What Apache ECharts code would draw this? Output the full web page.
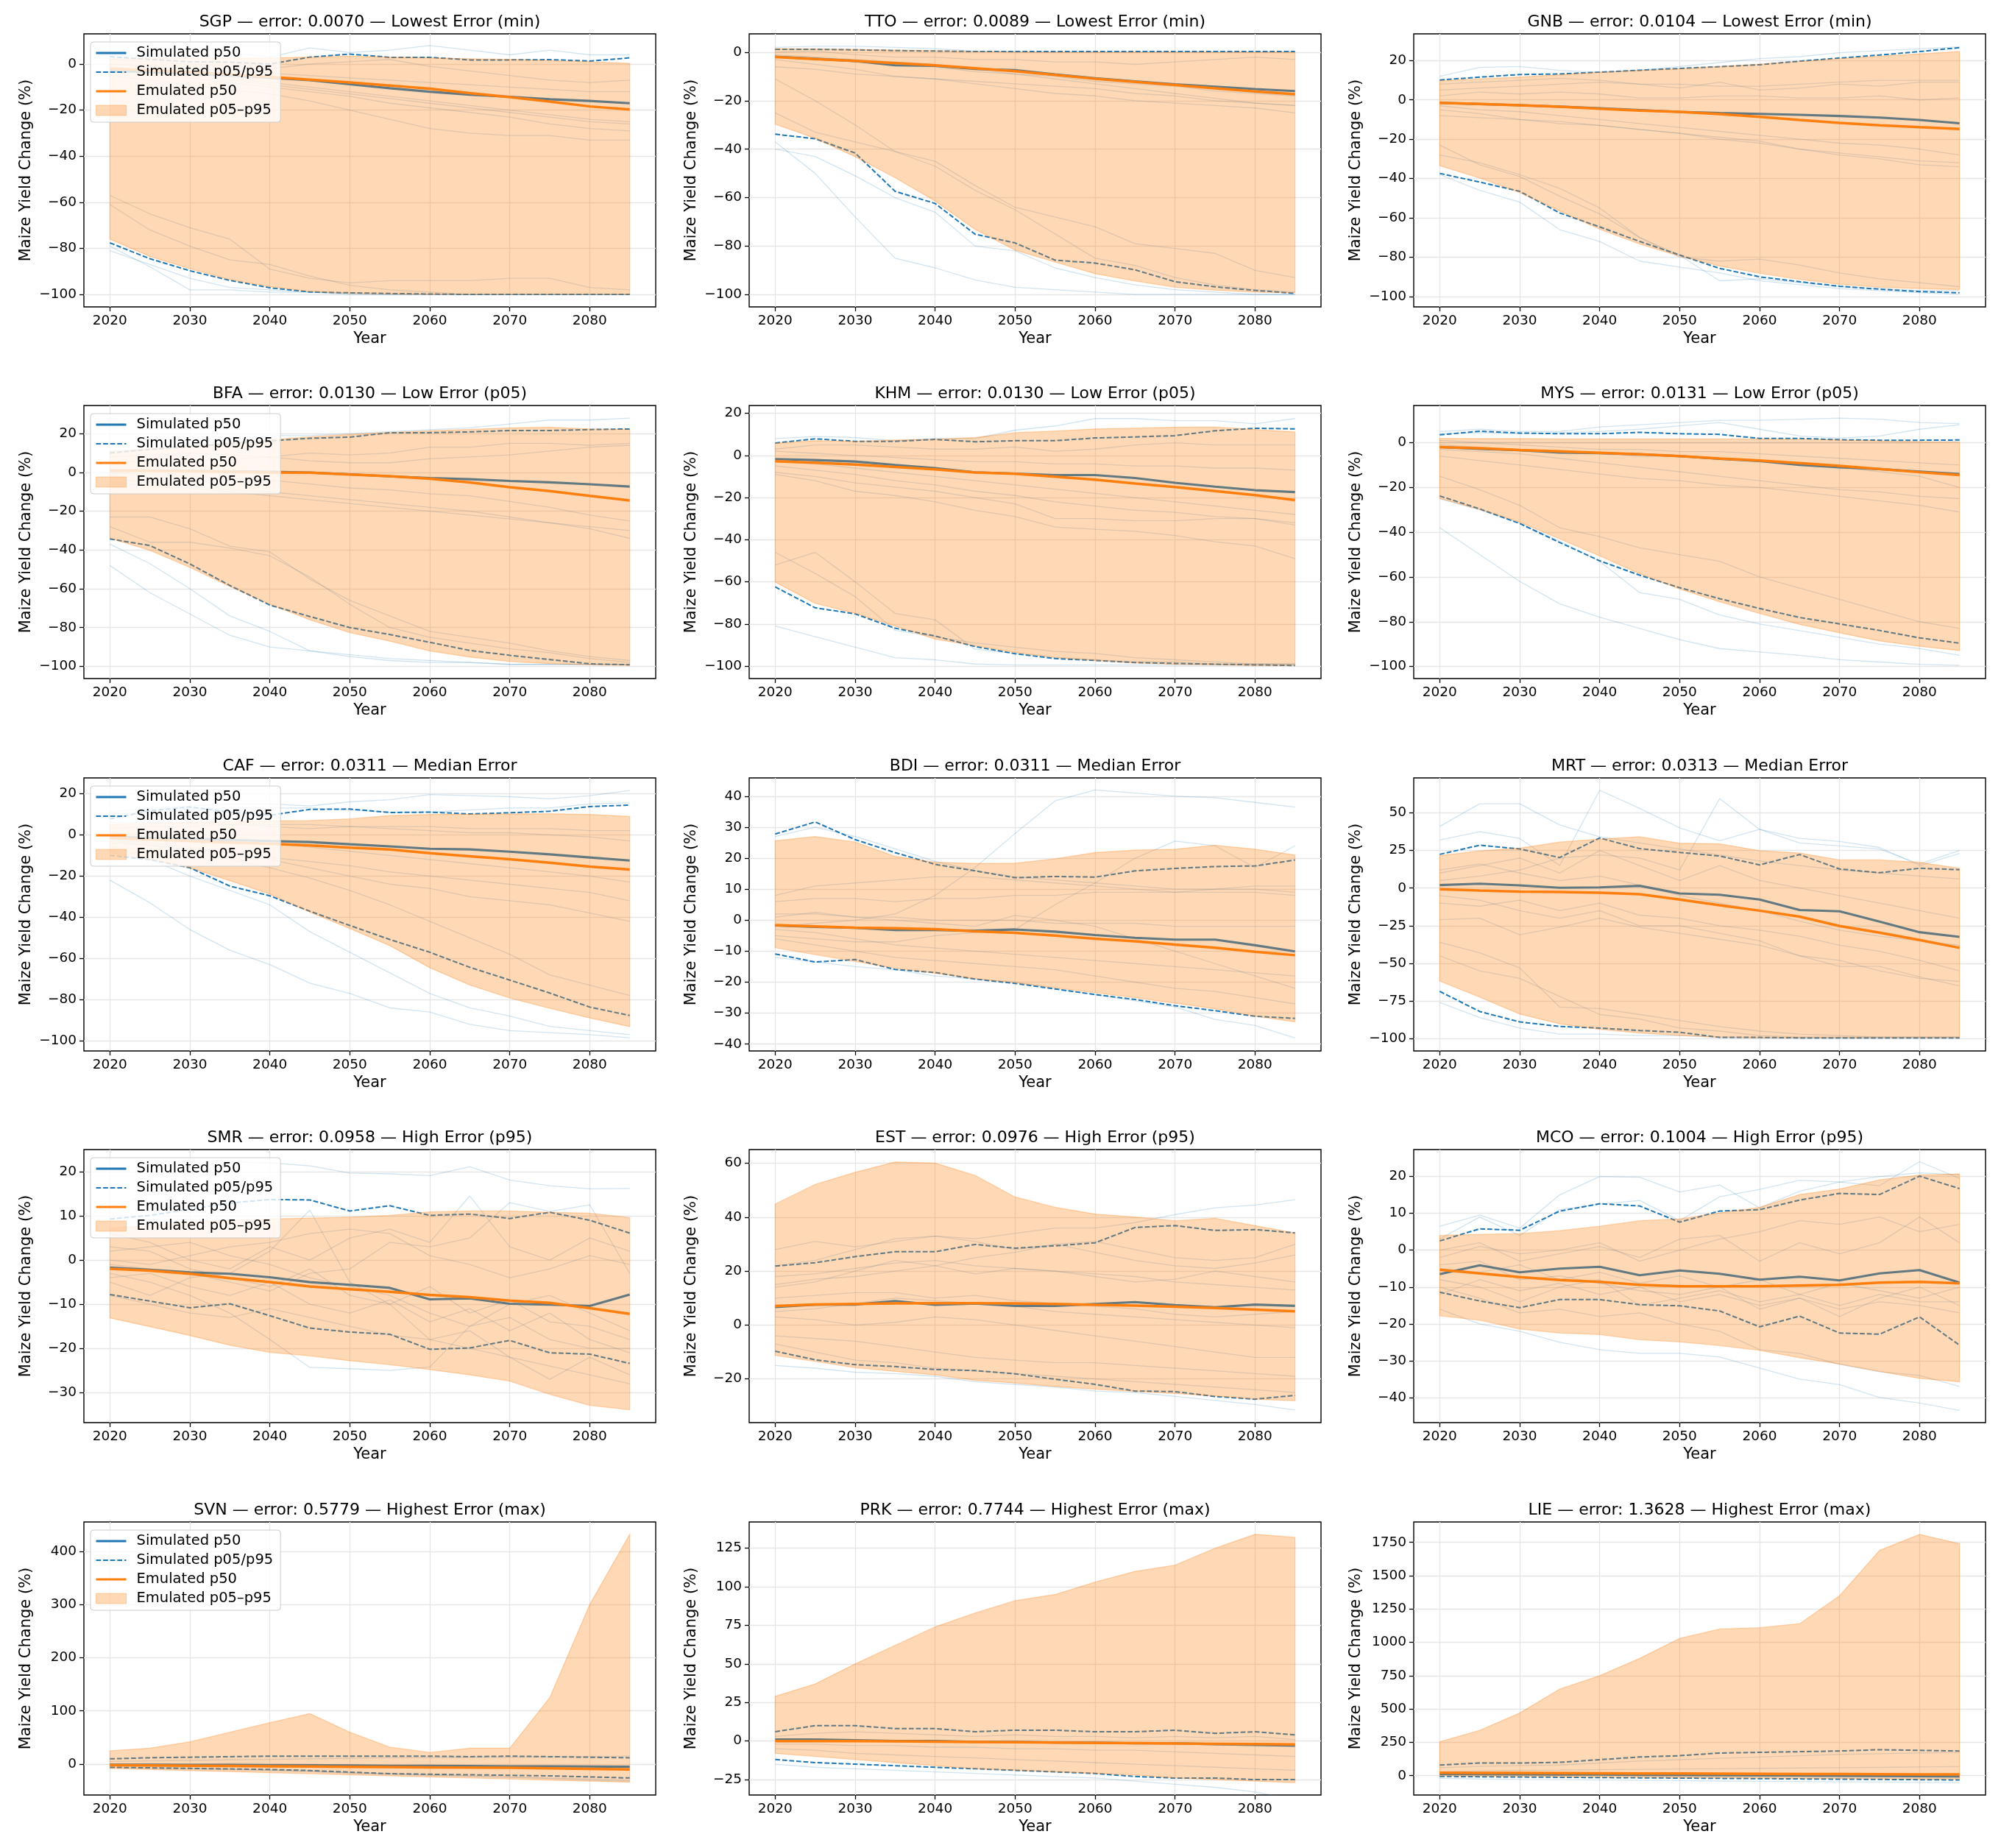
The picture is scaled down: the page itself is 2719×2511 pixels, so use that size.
<!DOCTYPE html>
<html>
<head>
<meta charset="utf-8">
<title>Maize yield change - simulated vs emulated</title>
<script src="https://cdn.jsdelivr.net/npm/echarts@6/dist/echarts.min.js"></script>
<style>
  html, body { margin: 0; padding: 0; background: #fff; }
  #chart { width: 2719px; height: 2511px; }
</style>
</head>
<body>
<div id="chart"></div>
<script>
// x axis
var years = [2020, 2025, 2030, 2035, 2040, 2045, 2050, 2055, 2060, 2065, 2070, 2075, 2080, 2085];
var yearTicks = [2020, 2030, 2040, 2050, 2060, 2070, 2080];

// SGP
var sgpSim50 = [-3, -3.5, -4.2, -5, -6, -7, -8.8, -10.5, -12, -13.3, -14.2, -15.3, -16, -17];
var sgpSim05 = [-77.6, -84.5, -89.7, -93.9, -97.1, -98.9, -99.3, -99.6, -99.8, -100, -100, -100, -100, -100];
var sgpSim95 = [3.2, 2, 1, 0.8, 0, 3, 4.3, 2.9, 2.9, 1.8, 1.8, 1.9, 1.3, 2.7];
var sgpEmu50 = [-2, -2.7, -3.5, -4.5, -5.6, -6.8, -8, -9.3, -10.7, -12.6, -14.4, -16.3, -18.4, -19.7];
var sgpEmu05 = [-76, -83.5, -88.8, -93.6, -96.6, -98.7, -99.5, -99.8, -100, -100, -100, -100, -100, -100];
var sgpEmu95 = [2.3, 2.4, 2.5, 2.5, 2.6, 3, 3.4, 3, 2.7, 2.3, 2, 1.5, 1, 0.3];
var sgpMembers = [
  [-1, -3, -5, -7, -9, -11, -13, -15, -17, -19, -21, -23, -25, -26],
  [2, 1, 0, -1, -2, 0, 1, 2, -1, -3, -5, -7, -8, -7],
  [-5, -7, -9, -11, -13, -16, -20, -24, -28, -30, -31, -31, -33, -33],
  [-57, -65, -71, -76, -89, -93, -95, -94, -94, -94, -93, -93, -97, -98],
  [-81, -87, -93, -97, -98, -99, -99.5, -100, -100, -100, -100, -100, -100, -100],
  [4, 3, 3, 5, 3, 7, 5, 6, 8, 6, 4, 6, 4, 4],
  [-61, -72, -79, -85, -87, -92, -96, -98, -99, -100, -100, -100, -100, -100],
  [-79, -88, -98, -98, -99, -99, -100, -100, -100, -100, -100, -100, -100, -100],
  [-3, -4, -6, -8, -10, -12, -14, -17, -19, -21, -23, -26, -28, -29],
  [-2, -3, -4, -6, -8, -10, -12, -14, -16, -18, -20, -22, -24, -25],
  [0, -1, -2, -3, -4, -5, -6, -7, -8, -9, -10, -11, -12, -12]
];
var sgpYTicks = [-100, -80, -60, -40, -20, 0];
var sgpYLim = [-105.4, 13.1];

// TTO
var ttoSim50 = [-1.8, -2.7, -3.6, -5.4, -5.6, -6.9, -7.4, -9.1, -10.7, -12, -13.2, -14.2, -15.2, -16];
var ttoSim05 = [-33.8, -35.7, -41.6, -57.4, -62.4, -75.1, -78.7, -85.8, -87, -89.8, -94.7, -96.8, -98.3, -99.5];
var ttoSim95 = [1.2, 1.2, 1, 0.7, 0.5, 0.3, 0.3, 0.3, 0.3, 0.3, 0.3, 0.3, 0.3, 0.3];
var ttoEmu50 = [-2, -2.8, -3.6, -4.5, -5.4, -6.6, -7.8, -9.3, -10.9, -12.2, -13.5, -14.9, -16.2, -17.3];
var ttoEmu05 = [-29.7, -35.5, -43.1, -51.8, -61.4, -73.1, -81.7, -86.6, -91.4, -94.4, -97, -98.2, -99, -99.3];
var ttoEmu95 = [1.5, 1.4, 1.2, 0.9, 0.7, 0.3, 0.1, 0, 0, 0, 0, 0, 0, 0];
var ttoMembers = [
  [-11, -20, -30, -41, -47, -57, -65, -75, -85, -88, -93, -96, -98, -99],
  [-25, -33, -37, -41, -45, -55, -64, -68, -72, -79, -81, -83, -90, -93],
  [-37, -50, -68, -85, -89, -94, -97, -98, -99, -100, -100, -100, -100, -100],
  [-40, -43, -51, -60, -66, -80, -82, -89, -93, -96, -98, -99, -100, -100],
  [-3, -5, -7, -10, -11, -13, -15, -17, -18, -20, -21, -22, -23, -25],
  [0, 0.5, -1, -2, -2, -3, -3, -4, -4, -5, -4, -3, -2, -3],
  [2, 2.5, 2.5, 2, 1.5, 0.5, 0, 0, 0, 0, 0, 0, 0, 0],
  [-6, -7, -9, -10, -11, -12, -13, -14, -15, -17, -18, -20, -21, -22],
  [-1, -2, -3, -4, -5, -7, -9, -11, -13, -15, -17, -19, -21, -22],
  [-2, -3, -4, -5, -6, -8, -9, -10, -12, -13, -14, -16, -17, -18]
];
var ttoYTicks = [-100, -80, -60, -40, -20, 0];
var ttoYLim = [-105.1, 7.6];

// GNB
var gnbSim50 = [-1.5, -2.1, -2.7, -3.4, -4.2, -5.2, -6.1, -6.7, -7.1, -7.6, -8.2, -9, -10.2, -11.9];
var gnbSim05 = [-37.4, -41.8, -46.5, -57.5, -64.6, -72, -78.9, -85.7, -90, -92.5, -94.8, -96.3, -97.5, -98.1];
var gnbSim95 = [10.1, 11.6, 12.9, 13.2, 14.1, 15.1, 16, 16.9, 17.9, 19.7, 21.3, 22.8, 24.6, 26.6];
var gnbEmu50 = [-1.5, -2.1, -2.7, -3.5, -4.5, -5.4, -6.1, -7.2, -8.6, -10.2, -11.7, -12.9, -13.9, -14.8];
var gnbEmu05 = [-33.5, -39.7, -47.1, -56.5, -65.8, -73.3, -79.5, -84.5, -88.2, -91.3, -93.8, -95.3, -96, -96.5];
var gnbEmu95 = [9.7, 10.7, 11.6, 12.8, 14.1, 15, 15.9, 17, 18.2, 19.6, 21, 22.2, 23.4, 24.6];
var gnbMembers = [
  [12, 16.5, 17, 15, 14, 15, 17, 19, 21, 22, 24, 25, 26, 27],
  [-23, -33, -39, -49, -58, -70, -80, -82, -81, -84, -88, -91, -93, -95],
  [-28, -32, -38, -45, -55, -70, -79, -92, -91, -93, -95, -96, -97, -97],
  [-38, -46, -52, -66, -72, -82, -85, -88, -92, -94, -96, -97, -98, -99],
  [8, 9, 10, 11, 10, 8, 6, 9, 5, 6, 8, 7, 9, 9],
  [-5, -7, -10, -11, -13, -15, -17, -19, -21, -25, -28, -30, -33, -34],
  [2, 4, 3, 4, 3, 1, 1, 2, 2, 1, 1, 2, 0, 1],
  [-3, -5, -6, -8, -10, -12, -14, -16, -18, -20, -22, -23, -25, -28],
  [5, 6, 7, 8, 9, 8, 8, 7, 7, 8, 9, 10, 10, 10],
  [-8, -9, -10, -12, -13, -15, -17, -20, -22, -25, -27, -29, -31, -32]
];
var gnbYTicks = [-100, -80, -60, -40, -20, 0, 20];
var gnbYLim = [-105.3, 33.6];

// BFA
var bfaSim50 = [1, 1, 0.8, 0.5, 0.3, -0.1, -1, -2, -2.9, -3.5, -4.4, -5.1, -6.1, -7.3];
var bfaSim05 = [-34.3, -37.7, -47.2, -58.3, -68.4, -74.3, -80, -83.6, -87.6, -91.8, -94.3, -96.5, -98.7, -99.2];
var bfaSim95 = [10, 11.9, 13.3, 14.8, 16.3, 17.6, 18.2, 20.5, 20.5, 20.9, 21.6, 21.6, 22.1, 22.4];
var bfaEmu50 = [0.9, 0.8, 0.6, 0.3, 0, -0.1, -1.1, -1.9, -3.3, -5.2, -7.6, -9.6, -12.1, -14.5];
var bfaEmu05 = [-33.9, -40.2, -49, -58.8, -68, -76, -82.6, -87, -92.1, -95.2, -97.5, -98.6, -99.2, -99.6];
var bfaEmu95 = [10.7, 12.2, 13.8, 15.4, 16.9, 18.3, 19.6, 20.6, 21.4, 22.2, 23, 23.3, 22.4, 22.1];
var bfaMembers = [
  [-23, -23, -29, -38, -41, -55, -66, -74, -82, -85, -88, -92, -95, -97],
  [-28, -36, -36, -39, -43, -54, -68, -80, -85, -88, -91, -93, -96, -98],
  [-37, -47, -60, -74, -82, -92, -95, -97, -98, -98, -99, -99, -99, -99],
  [-48, -62, -73, -84, -90, -92, -94, -96, -97, -98, -99, -99, -99, -99],
  [11, 12, 14, 17, 19, 19, 20, 21, 22, 23, 25, 27, 27, 28],
  [5, 6, 6, 7, 8, 10, 9, 10, 13, 13, 15, 15, 14, 15],
  [-3, -5, -7, -9, -10, -12, -14, -16, -18, -20, -23, -26, -29, -34],
  [0, -1, -2, -3, -4, -6, -8, -9, -11, -12, -15, -18, -22, -25],
  [8, 9, 10, 9, 8, 6, 5, 5, 7, 8, 9, 11, 13, 14],
  [-5, -7, -8, -10, -12, -14, -16, -18, -20, -22, -24, -26, -28, -30]
];
var bfaYTicks = [-100, -80, -60, -40, -20, 0, 20];
var bfaYLim = [-106.3, 34.5];

// KHM
var khmSim50 = [-1.7, -2.2, -2.9, -4.5, -6, -8, -8.6, -9.3, -9.3, -10.7, -13, -14.8, -16.5, -17.4];
var khmSim05 = [-62.4, -72.3, -75.2, -82, -85.7, -90.7, -94.1, -96.4, -97.3, -98.3, -98.7, -99.1, -99.4, -99.7];
var khmSim95 = [5.9, 7.9, 6.7, 6.7, 7.6, 6.5, 7, 7, 8.3, 8.8, 9.4, 11.7, 12.9, 12.6];
var khmEmu50 = [-2.8, -3.5, -4.3, -5.5, -6.6, -8.1, -8.7, -10.1, -11.5, -13.3, -15, -16.9, -18.8, -21.2];
var khmEmu05 = [-60.1, -70.2, -74.9, -81, -87.2, -90.3, -93.5, -95.9, -97.3, -98.5, -99.1, -99.4, -99.7, -99.7];
var khmEmu95 = [5.8, 7, 6.7, 7.3, 7.7, 8.5, 10.8, 11.6, 12.6, 13, 13.4, 13.5, 12.3, 11.2];
var khmMembers = [
  [-46, -56, -67, -83, -86, -89, -91, -93, -94, -96, -97, -98, -99, -99],
  [-52, -46, -60, -75, -78, -92, -94, -96, -97, -98, -98, -99, -99, -99],
  [-81, -86, -91, -96, -97, -99, -99.5, -99.5, -99.5, -99.5, -99.5, -99.5, -99.5, -99.5],
  [8, 9, 8.5, 7, 8, 8, 12, 14, 17.5, 17.5, 16.5, 16.5, 15, 17.5],
  [-9, -12, -17, -19, -22, -26, -29, -34, -35, -36, -38, -41, -43, -49],
  [-8, -10, -13, -15, -17, -20, -23, -30, -30, -31, -31, -30, -30, -33],
  [3, 5, 5, 4, 3, 3, 4, 2, 3, 5, 6, 5, 5, 5],
  [-5, -7, -9, -12, -14, -17, -19, -22, -24, -26, -27, -29, -30, -32],
  [-3, -4, -6, -8, -10, -12, -14, -16, -18, -20, -22, -24, -26, -28],
  [2, 1, 0, -1, -2, -3, -3, -4, -4, -5, -5, -6, -6, -7]
];
var khmYTicks = [-100, -80, -60, -40, -20, 0, 20];
var khmYLim = [-105.9, 23.7];

// MYS
var mysSim50 = [-2, -2.8, -3.4, -4.4, -4.7, -5.2, -6, -7.2, -8.2, -9.9, -11, -11.8, -12.9, -14];
var mysSim05 = [-23.8, -29.6, -36.1, -44.6, -52.8, -59.2, -64.8, -69.7, -74.1, -78.1, -81, -83.9, -87.2, -89.6];
var mysSim95 = [3.5, 5.1, 4.3, 4, 4, 4.6, 4, 3.7, 1.9, 1.9, 1.3, 1.1, 1.1, 1.2];
var mysEmu50 = [-2, -2.5, -3.3, -3.9, -4.5, -5.2, -6, -7.1, -8, -9.1, -10.4, -11.8, -13.2, -14.5];
var mysEmu05 = [-24.9, -29.8, -35.5, -43, -50.6, -58.6, -65.4, -71.1, -76.3, -81.2, -85, -88.6, -91, -92.9];
var mysEmu95 = [1.9, 1.8, 1.8, 1.7, 1.7, 1.7, 1.7, 1.7, 1.6, 1.5, 1.2, 0.8, 0.4, 0.2];
var mysMembers = [
  [-38, -50, -62, -72, -78, -83, -88, -92, -93.5, -95, -97, -98, -99, -99.5],
  [-25, -30, -36, -44, -53, -67, -70, -77, -81, -84, -87, -90, -92, -95],
  [-15, -21, -28, -38, -42, -47, -50, -53, -60, -65, -70, -75, -80, -83],
  [5, 6, 5, 5, 7, 8, 9, 10, 10, 10.5, 11, 10.5, 9, 8.5],
  [4, 4.5, 4, 4.5, 5, 6, 7.5, 9, 6, 3, 2, 3, 6, 8],
  [-6, -8, -10, -12, -14, -16, -17, -19, -20, -22, -24, -26, -28, -31],
  [-1, -2, -3, -4, -5, -6, -6, -7, -8, -10, -11, -13, -15, -20],
  [0, 0, 0, 0, 0, 0, 0, 0, 0, 0, 0, 0, 0, 0.5],
  [-3, -4, -5, -7, -9, -11, -13, -15, -17, -19, -21, -22, -24, -25],
  [1, 0, -1, -2, -3, -3, -4, -4, -5, -6, -7, -8, -9, -10]
];
var mysYTicks = [-100, -80, -60, -40, -20, 0];
var mysYLim = [-105.4, 16.6];

// CAF
var cafSim50 = [-1, -1.5, -2, -2.5, -3, -3.5, -4.6, -5.6, -6.8, -7.1, -8.2, -9.5, -11, -12.5];
var cafSim05 = [-10, -12, -16, -24.9, -29.6, -37.1, -44, -50.8, -57, -64.3, -70.5, -76.8, -83.6, -87.7];
var cafSim95 = [7.7, 11.7, 13.5, 11, 9.5, 12.3, 12.5, 10.8, 11, 10.1, 10.7, 11.4, 13.7, 14.4];
var cafEmu50 = [-1.5, -2.3, -3, -3.7, -4.4, -5.2, -6.2, -7.1, -8.9, -10.4, -11.9, -13.6, -15.4, -16.9];
var cafEmu05 = [-9, -12, -16, -22.3, -28.8, -37.5, -45.5, -53.8, -64.5, -72.9, -79.2, -84.2, -88.9, -93.1];
var cafEmu95 = [5.1, 5.5, 6, 6.4, 6.7, 6.9, 7.7, 9.3, 9.9, 10, 10.1, 10.2, 9.9, 8.9];
var cafMembers = [
  [-22, -33, -46, -56, -63, -72, -77, -84, -86, -92, -95, -96, -97, -98.5],
  [-5, -12, -20, -27, -34, -47, -57, -67, -77, -84, -88, -93, -95, -97],
  [11, 13, 14, 15, 15, 14, 16, 17, 19.5, 19, 18.5, 17.5, 19, 21.5],
  [10, 11, 12, 13, 13, 13, 12, 11, 11, 12, 13, 13, 15, 15.5],
  [-3, -5, -8, -12, -16, -21, -27, -34, -42, -50, -58, -68, -73, -78],
  [-2, -4, -6, -9, -12, -16, -20, -24, -26, -30, -32, -34, -38, -42],
  [3, 4, 4, 5, 4, 3, 4, 3, 2, 1, 1, 0, -1, -3],
  [-4, -5, -7, -9, -11, -13, -15, -18, -20, -22, -24, -26, -28, -32],
  [1, 0, -1, -2, -4, -6, -8, -10, -12, -14, -16, -18, -20, -23],
  [6, 6, 6, 5, 5, 5, 4, 4, 4, 3, 3, 3, 2, 2]
];
var cafYTicks = [-100, -80, -60, -40, -20, 0, 20];
var cafYLim = [-104.9, 27.6];

// BDI
var bdiSim50 = [-1.7, -2.2, -2.5, -3.2, -3.2, -3.4, -3, -3.7, -4.8, -5.7, -6.3, -6.3, -8.1, -10.1];
var bdiSim05 = [-10.9, -13.5, -12.7, -15.9, -16.9, -19, -20.4, -22.2, -24, -25.6, -27.6, -29.2, -31, -31.7];
var bdiSim95 = [27.8, 31.7, 26, 21.8, 18, 15.9, 13.7, 14.1, 13.9, 15.9, 16.7, 17.3, 17.5, 19.4];
var bdiEmu50 = [-1.6, -2, -2.4, -2.6, -2.9, -3.6, -4.1, -5, -6, -6.8, -7.9, -8.9, -10.2, -11.3];
var bdiEmu05 = [-8.9, -11.1, -13.3, -15.5, -17.1, -18.9, -20.2, -21.8, -23.4, -25, -26.8, -28.6, -31, -32.8];
var bdiEmu95 = [25.6, 27, 25.2, 20.6, 18.7, 18.3, 18.4, 19.8, 21.8, 22.6, 22.9, 24.2, 22.9, 21];
var bdiMembers = [
  [-2, -1, 0, 2, 8, 17, 28, 38.5, 42, 41, 40, 39.5, 38, 36.5],
  [-5, -6, -7, -7, -5, -4, -3, 5, 12, 20, 25.5, 24, 17, 24],
  [-12, -13.5, -15, -16, -18, -19, -20, -22, -24, -26, -28, -32, -34, -38],
  [27, 30, 27, 23, 19, 16, 14, 13, 12, 11, 10, 10, 11, 11],
  [8, 11, 12, 13, 14, 14, 13, 12, 11, 10, 9, 10, 10, 9],
  [6, 7, 7, 6, 7, 7, 8, 8, 9, 9, 9, 9, 9, 8],
  [-6, -8, -10, -12, -13, -14, -15, -16, -18, -20, -22, -23, -25, -27],
  [1, 2.5, 1, 0, -1, -2, 1.5, 0, -2, -6, -10, -14, -18, -22],
  [-3, -4, -6, -8, -9, -10, -11, -12, -13, -14, -15, -16, -17, -18],
  [2, 2, 1, 1, 0, 0, 0, -1, -1, -1, -2, -2, -2, -2]
];
var bdiYTicks = [-40, -30, -20, -10, 0, 10, 20, 30, 40];
var bdiYLim = [-42.2, 45.9];

// MRT
var mrtSim50 = [2, 2.9, 1.8, 0.2, 0.5, 1.5, -3.6, -4.4, -7.6, -14.6, -15.4, -22.3, -29.3, -32.4];
var mrtSim05 = [-68.6, -82, -88.9, -91.9, -93, -94.6, -95.8, -99.2, -99.2, -99.5, -99.5, -99.5, -99.5, -99.5];
var mrtSim95 = [22.4, 28.5, 26, 20.3, 33.3, 26.2, 23.7, 21.3, 15.4, 22.3, 12.7, 10.2, 13.2, 12.2];
var mrtEmu50 = [-0.8, -1.6, -2.3, -2.6, -3.1, -4.1, -7.6, -11.4, -15, -19, -25.2, -29.6, -34.5, -39.7];
var mrtEmu05 = [-61.8, -72.4, -83.7, -90.2, -93.8, -96.3, -97.9, -99.2, -99.5, -99.5, -99.5, -99.5, -99.5, -99.5];
var mrtEmu95 = [21.6, 24.7, 26.5, 30.6, 32.5, 34.1, 29.8, 29.4, 24.9, 23.3, 18.7, 18.7, 17.1, 13.2];
var mrtMembers = [
  [41, 56, 56, 42, 34, 30, 26, 22, 18, 15, 12, 10, 8, 6],
  [32, 37.5, 33, 15, 65, 53, 40, 31.5, 39, 33, 31, 27, 15, 23],
  [-36, -43, -53, -79, -80, -84, -88, -92, -95, -97, -98, -99, -99, -99],
  [-45, -55, -60, -72, -84, -87, -93, -95, -98, -99, -99, -99, -99, -99],
  [-76, -86, -93, -97, -97, -98, -98, -99, -99.5, -99.5, -99.5, -99.5, -99.5, -99.5],
  [-21, -20, -31, -26, -20, -26, -30, -34, -38, -45, -52, -52, -59, -65],
  [10, 15, 20, 10, 25, 15, 5, 15, 5, 0, -5, -10, -15, -20],
  [-5, -8, -15, -20, -15, -25, -25, -30, -35, -45, -48, -55, -60, -62],
  [5, 8, 12, 20, 22, 20, 12, 59.5, 39, 30, 28, 26, 16, 25],
  [12, 16, 10, 5, 8, 2, -5, -10, -15, -22, -28, -32, -35, -38],
  [-10, -12, -8, -15, -10, -18, -20, -25, -28, -32, -38, -42, -48, -55]
];
var mrtYTicks = [-100, -75, -50, -25, 0, 25, 50];
var mrtYLim = [-108.2, 73.2];

// SMR
var smrSim50 = [-1.7, -2.2, -2.8, -3.1, -3.9, -5, -5.6, -6.3, -8.9, -8.7, -9.9, -10.1, -10.4, -7.8];
var smrSim05 = [-7.8, -9.3, -10.8, -9.9, -12.6, -15.4, -16.3, -16.8, -20.2, -19.9, -18.2, -21, -21.3, -23.4];
var smrSim95 = [9.3, 10.1, 11.5, 12.9, 13.7, 13.6, 11.1, 12.3, 10.1, 10.4, 9.4, 10.8, 9, 6.1];
var smrEmu50 = [-2, -2.4, -3.1, -4.1, -5, -6, -6.6, -7.2, -7.9, -8.4, -9.2, -9.7, -10.9, -12.2];
var smrEmu05 = [-13.1, -15.1, -17.1, -19.3, -20.9, -21.7, -22.8, -23.7, -24.8, -26, -27.4, -30.4, -32.9, -33.9];
var smrEmu95 = [7.2, 7.9, 8.6, 9, 9.3, 9.5, 9.7, 10.1, 10.9, 11.1, 11.1, 10.8, 10.6, 9.6];
var smrMembers = [
  [12, 15, 18, 22.2, 22, 21.3, 19.7, 19.5, 19.1, 21.1, 18.1, 16.8, 16.1, 16.2],
  [-5, -8, -4, -3, 2, 11.3, -5, -10, -18, -20, -22, -24, -26, -28],
  [-3, -5, -8, -12, -18, -24.3, -24.6, -25, -24.2, -15, -10, -8, -12, -16],
  [6, 4, 0, -2, 3, 0, 5, 7, 4, 14.5, 3, 0, 5, 2],
  [-8, -10, -12, -13, -11, -13, -15, -17, -18, -16, -22, -27, -22, -26],
  [2, 3, 4, 1, -1, -4, -6, -8, -12, -15, -13, -18, -20, -20],
  [-1, -2, -3, -5, -7, -3, -2, 4, 3, 5, 13, 11, 12.5, -3],
  [0, -1, 1, 3, 4, 6, 7, 6, 1, -1, -4, -2, 1, -1],
  [3, 2, -2, -4, -6, -2, -8, -10, -6, -12, -9, -14, -15, -18],
  [-4, -3, -6, -8, -5, -10, -12, -9, -14, -11, -16, -12, -18, -21]
];
var smrYTicks = [-30, -20, -10, 0, 10, 20];
var smrYLim = [-36.8, 25];

// EST
var estSim50 = [6.7, 7.6, 7.6, 8.9, 7.5, 8, 7.1, 7.1, 7.8, 8.5, 7.4, 6.6, 7.6, 7.1];
var estSim05 = [-9.7, -12.9, -14.7, -15.4, -16.5, -16.9, -18.1, -20.1, -22, -24.5, -24.7, -26.5, -27.5, -26.1];
var estSim95 = [21.9, 23.1, 25.4, 27.2, 27.2, 29.9, 28.5, 29.4, 30.5, 36.2, 36.9, 35.1, 35.4, 34.2];
var estEmu50 = [7.1, 7.6, 7.8, 8, 8.1, 8.1, 8, 7.8, 7.5, 7.2, 6.8, 6.3, 5.7, 5.1];
var estEmu05 = [-11.3, -13.5, -15.8, -17.2, -18.5, -20.5, -21.5, -22.8, -23.8, -24.6, -25.4, -26.3, -27.5, -28.1];
var estEmu95 = [44.9, 52.2, 56.7, 60.5, 60.1, 55.5, 47.5, 43.7, 41.2, 40.1, 38.7, 39.6, 36.9, 34.2];
var estMembers = [
  [-15, -16, -17.5, -18, -19, -21, -22, -23, -24.5, -25, -26.5, -28, -29.5, -31.5],
  [28, 31, 29, 31, 33, 32, 34, 36, 36, 38, 41, 43.5, 44.5, 46.5],
  [15, 17, 18, 20, 22, 25, 27, 30, 31, 28, 25, 24, 25, 30],
  [3, 2, 0, 1, 3, 2, 0, -2, -4, -6, -8, -10, -12, -12],
  [14, 16, 20, 24, 22, 19, 21, 20, 18, 16, 17, 20, 18, 16],
  [-7, -10, -13, -14, -16, -17, -18, -19, -20, -21, -22, -23, -24, -25],
  [10, 11, 12, 12, 10, 11, 9, 8, 7, 6, 4, 3, 4, 5],
  [22, 24, 28, 32, 33, 31, 28, 30, 27, 24, 22, 21, 23, 26],
  [-4, -5, -6, -8, -10, -12, -13, -14, -14, -15, -16, -17, -18, -19],
  [5, 6, 8, 10, 9, 8, 7, 5, 4, 3, 2, 1, 0, -1],
  [18, 19, 21, 23, 24, 22, 21, 20, 19, 18, 16, 15, 14, 13]
];
var estYTicks = [-20, 0, 20, 40, 60];
var estYLim = [-36.2, 65.1];

// MCO
var mcoSim50 = [-6.5, -4.1, -6, -5, -4.5, -6.8, -5.5, -6.4, -8, -7.2, -8.2, -6.3, -5.4, -8.8];
var mcoSim05 = [-11.4, -13.8, -15.6, -13.4, -13.4, -14.8, -15.1, -16.5, -20.8, -17.9, -22.5, -22.8, -18.1, -25.8];
var mcoSim95 = [2.5, 5.8, 5.4, 10.6, 12.6, 12, 7.6, 10.6, 11, 13.6, 15.4, 15.1, 20.1, 16.7];
var mcoEmu50 = [-5.3, -6.3, -7.3, -8.1, -8.6, -9.4, -9.8, -9.8, -9.8, -9.6, -9.4, -8.8, -8.6, -9];
var mcoEmu05 = [-17.8, -19, -21.4, -22.5, -22.9, -24.3, -24.9, -25.9, -27.2, -29.2, -30.9, -32.9, -34.8, -35.7];
var mcoEmu95 = [4, 4.3, 4.5, 5.3, 6.5, 8, 8.5, 10.1, 11.6, 15.1, 16.6, 19.1, 20.4, 20.7];
var mcoMembers = [
  [6.5, 9.5, 6, 15, 20, 19.8, 15.8, 17.7, 11.5, 16, 18.5, 17.5, 24, 19.5],
  [3, 9, 4, 11, 12.5, 13.5, 8, 14.5, 16.5, 19, 18.5, 20, 21, 20.5],
  [-16, -20, -22, -25, -27, -28, -28, -29, -32, -35, -36.5, -40, -41.5, -43.5],
  [-10, -13, -17, -16, -18, -17, -20, -22, -27, -28, -31, -33, -34, -37],
  [0, 2, -3, -1, 1, -2, 3, 4, -3, 2, -1, 2, 9, 2],
  [-4, -3, -8, -7, -9, -11, -12, -10, -16, -13, -18, -13, -10, -15],
  [-8, -10, -14, -10, -8, -15, -13, -11, -14, -12, -15, -12, -14, -14],
  [-2, 1, -1, 0, 2, -3, 0, 3, 5, 8, 7, 9, 5, 7],
  [-5, -6, -4, -8, -6, -9, -7, -10, -8, -12, -9, -11, -13, -10],
  [-12, -8, -11, -9, -12, -10, -14, -12, -15, -13, -16, -14, -15, -17]
];
var mcoYTicks = [-40, -30, -20, -10, 0, 10, 20];
var mcoYLim = [-46.8, 27.3];

// SVN
var svnSim50 = [-1, -1, -1.5, -1.5, -2, -2, -2.5, -3, -3, -3.5, -4, -4, -4.5, -5];
var svnSim05 = [-6, -7, -8, -9, -10, -12, -15, -18, -19, -20, -21, -22, -24, -26];
var svnSim95 = [10, 12, 13, 14, 15, 15, 15, 15, 15, 14, 15, 14, 13, 12];
var svnEmu50 = [-2, -2.5, -3, -3.5, -4, -4.5, -5, -5.5, -6, -6.5, -7, -8, -9, -10];
var svnEmu05 = [-8, -10, -12, -14, -16, -18, -20, -22, -24, -26, -28, -30, -32, -34];
var svnEmu95 = [25, 30, 42, 60, 78, 95, 60, 32, 22, 30, 30, 125, 300, 432];
var svnMembers = [
  [5, 6, 7, 8, 9, 10, 11, 12, 12, 13, 13, 14, 14, 15],
  [-3, -5, -7, -9, -11, -13, -16, -18, -20, -22, -24, -26, -28, -30],
  [0, 1, 0, 2, 1, 0, -2, -3, -4, -5, -6, -7, -8, -9],
  [-6, -8, -9, -10, -12, -14, -17, -19, -21, -23, -25, -27, -30, -32]
];
var svnYTicks = [0, 100, 200, 300, 400];
var svnYLim = [-58, 455];

// PRK
var prkSim50 = [1, 1, 0.5, 0, 0, -0.5, -0.5, -1, -1, -1.5, -1.5, -2, -2.5, -3];
var prkSim05 = [-12, -14, -15, -16, -17, -18, -19, -20, -21, -23, -24, -24, -25, -25];
var prkSim95 = [6, 10, 10, 8, 8, 6, 7, 7, 6, 6, 7, 5, 6, 4];
var prkEmu50 = [0, 0, 0, -0.2, -0.4, -0.6, -0.8, -1, -1.2, -1.4, -1.6, -1.8, -2, -2.2];
var prkEmu05 = [-8, -10, -12, -14, -16, -18, -19, -20, -21, -22, -24, -25, -26, -27];
var prkEmu95 = [29, 37, 50, 62, 74, 83, 91, 95, 103, 110, 114, 125, 134, 132];
var prkMembers = [
  [-15, -17, -18, -19, -20, -21, -22, -23, -24, -26, -28, -30, -33, -38],
  [3, 5, 6, 5, 4, 3, 4, 3, 3, 2, 3, 2, 3, 1],
  [-5, -6, -8, -9, -10, -11, -12, -13, -14, -15, -16, -17, -18, -19],
  [-2, -2, -3, -3, -4, -4, -5, -5, -6, -6, -7, -8, -9, -10]
];
var prkYTicks = [-25, 0, 25, 50, 75, 100, 125];
var prkYLim = [-35, 142];

// LIE
var lieSim50 = [12, 11, 10, 9, 8, 6, 5, 3, 2, 0, -1, -3, -4, -6];
var lieSim05 = [-5, -8, -10, -12, -14, -16, -18, -20, -22, -24, -26, -28, -30, -32];
var lieSim95 = [80, 95, 95, 100, 120, 140, 150, 170, 175, 180, 185, 195, 190, 185];
var lieEmu50 = [22, 21, 20, 19, 18, 17, 16, 15, 14, 13, 12, 11, 10, 10];
var lieEmu05 = [-2, -4, -6, -8, -10, -12, -14, -16, -18, -20, -22, -24, -25, -26];
var lieEmu95 = [255, 340, 470, 650, 750, 880, 1030, 1100, 1110, 1140, 1350, 1690, 1810, 1740];
var lieMembers = [
  [60, 70, 75, 80, 95, 110, 120, 130, 140, 150, 160, 165, 170, 175],
  [-20, -25, -28, -30, -32, -35, -37, -40, -42, -44, -46, -48, -50, -52],
  [10, 12, 10, 8, 6, 4, 2, 0, -2, -4, -6, -8, -10, -12],
  [30, 35, 40, 42, 45, 48, 50, 52, 55, 58, 60, 62, 65, 68]
];
var lieYTicks = [0, 250, 500, 750, 1000, 1250, 1500, 1750];
var lieYLim = [-145, 1903];

var panels = [
  { code: 'SGP', err: '0.0070', tag: 'Lowest Error (min)', s50: sgpSim50, s05: sgpSim05, s95: sgpSim95, e50: sgpEmu50, e05: sgpEmu05, e95: sgpEmu95, members: sgpMembers, ticks: sgpYTicks, lim: sgpYLim },
  { code: 'TTO', err: '0.0089', tag: 'Lowest Error (min)', s50: ttoSim50, s05: ttoSim05, s95: ttoSim95, e50: ttoEmu50, e05: ttoEmu05, e95: ttoEmu95, members: ttoMembers, ticks: ttoYTicks, lim: ttoYLim },
  { code: 'GNB', err: '0.0104', tag: 'Lowest Error (min)', s50: gnbSim50, s05: gnbSim05, s95: gnbSim95, e50: gnbEmu50, e05: gnbEmu05, e95: gnbEmu95, members: gnbMembers, ticks: gnbYTicks, lim: gnbYLim },
  { code: 'BFA', err: '0.0130', tag: 'Low Error (p05)', s50: bfaSim50, s05: bfaSim05, s95: bfaSim95, e50: bfaEmu50, e05: bfaEmu05, e95: bfaEmu95, members: bfaMembers, ticks: bfaYTicks, lim: bfaYLim },
  { code: 'KHM', err: '0.0130', tag: 'Low Error (p05)', s50: khmSim50, s05: khmSim05, s95: khmSim95, e50: khmEmu50, e05: khmEmu05, e95: khmEmu95, members: khmMembers, ticks: khmYTicks, lim: khmYLim },
  { code: 'MYS', err: '0.0131', tag: 'Low Error (p05)', s50: mysSim50, s05: mysSim05, s95: mysSim95, e50: mysEmu50, e05: mysEmu05, e95: mysEmu95, members: mysMembers, ticks: mysYTicks, lim: mysYLim },
  { code: 'CAF', err: '0.0311', tag: 'Median Error', s50: cafSim50, s05: cafSim05, s95: cafSim95, e50: cafEmu50, e05: cafEmu05, e95: cafEmu95, members: cafMembers, ticks: cafYTicks, lim: cafYLim },
  { code: 'BDI', err: '0.0311', tag: 'Median Error', s50: bdiSim50, s05: bdiSim05, s95: bdiSim95, e50: bdiEmu50, e05: bdiEmu05, e95: bdiEmu95, members: bdiMembers, ticks: bdiYTicks, lim: bdiYLim },
  { code: 'MRT', err: '0.0313', tag: 'Median Error', s50: mrtSim50, s05: mrtSim05, s95: mrtSim95, e50: mrtEmu50, e05: mrtEmu05, e95: mrtEmu95, members: mrtMembers, ticks: mrtYTicks, lim: mrtYLim },
  { code: 'SMR', err: '0.0958', tag: 'High Error (p95)', s50: smrSim50, s05: smrSim05, s95: smrSim95, e50: smrEmu50, e05: smrEmu05, e95: smrEmu95, members: smrMembers, ticks: smrYTicks, lim: smrYLim },
  { code: 'EST', err: '0.0976', tag: 'High Error (p95)', s50: estSim50, s05: estSim05, s95: estSim95, e50: estEmu50, e05: estEmu05, e95: estEmu95, members: estMembers, ticks: estYTicks, lim: estYLim },
  { code: 'MCO', err: '0.1004', tag: 'High Error (p95)', s50: mcoSim50, s05: mcoSim05, s95: mcoSim95, e50: mcoEmu50, e05: mcoEmu05, e95: mcoEmu95, members: mcoMembers, ticks: mcoYTicks, lim: mcoYLim },
  { code: 'SVN', err: '0.5779', tag: 'Highest Error (max)', s50: svnSim50, s05: svnSim05, s95: svnSim95, e50: svnEmu50, e05: svnEmu05, e95: svnEmu95, members: svnMembers, ticks: svnYTicks, lim: svnYLim },
  { code: 'PRK', err: '0.7744', tag: 'Highest Error (max)', s50: prkSim50, s05: prkSim05, s95: prkSim95, e50: prkEmu50, e05: prkEmu05, e95: prkEmu95, members: prkMembers, ticks: prkYTicks, lim: prkYLim },
  { code: 'LIE', err: '1.3628', tag: 'Highest Error (max)', s50: lieSim50, s05: lieSim05, s95: lieSim95, e50: lieEmu50, e05: lieEmu05, e95: lieEmu95, members: lieMembers, ticks: lieYTicks, lim: lieYLim }
];

// layout of the 5x3 panel grid (pixels)
var FONT = 'DejaVu Sans';
var colLeft = [114, 1018, 1921];
var rowTop = [46, 551, 1057, 1562, 2068];
var plotW = 777, plotH = 371;

var BLUE = '#1f77b4', ORANGE = '#ff7f0e', BAND = 'rgba(255,127,14,0.3)';
var ICON_SOLID = 'path://M0,0H41V3H0Z';
var ICON_DASH = 'path://M0,0H6.7V2H0Z M9.6,0H16.3V2H9.6Z M19.2,0H25.9V2H19.2Z M28.8,0H35.5V2H28.8Z M38.4,0H41V2H38.4Z';

function minusFmt(v) {
  return v < 0 ? '\u2212' + Math.abs(v) : String(v);
}

function pairs(arr) {
  return years.map(function (y, k) { return [y, arr[k]]; });
}

function lineSeries(i, name, arr, style, z) {
  return {
    type: 'line', name: name, xAxisIndex: i, yAxisIndex: i,
    data: pairs(arr), symbol: 'none', showSymbol: false,
    lineStyle: style, itemStyle: { color: style.color },
    z: z, silent: true, animation: false
  };
}

function bandRenderer(lo, hi) {
  return function (params, api) {
    var pts = [];
    for (var k = 0; k < years.length; k++) pts.push(api.coord([years[k], hi[k]]));
    for (var j = years.length - 1; j >= 0; j--) pts.push(api.coord([years[j], lo[j]]));
    return {
      type: 'polygon',
      shape: { points: pts },
      style: { fill: BAND, stroke: BAND, lineWidth: 1.3 }
    };
  };
}

var grids = [], xAxes = [], yAxes = [], titles = [], legends = [], series = [];

panels.forEach(function (p, i) {
  var col = i % 3, row = Math.floor(i / 3);
  var left = colLeft[col], top = rowTop[row];

  grids.push({
    left: left, top: top, width: plotW, height: plotH,
    show: true, borderColor: '#000', borderWidth: 1.4, backgroundColor: 'transparent',
    containLabel: false, outerBoundsMode: 'none'
  });

  xAxes.push({
    type: 'value', gridIndex: i, min: 2016.75, max: 2088.25, position: 'bottom',
    name: 'Year', nameLocation: 'middle', nameGap: 33,
    nameTextStyle: { fontSize: 21, color: '#000', fontFamily: FONT },
    axisLine: { show: false, onZero: false },
    axisTick: { show: true, customValues: yearTicks, length: 6, lineStyle: { color: '#000', width: 1.3 } },
    axisLabel: { show: true, customValues: yearTicks, margin: 10, fontSize: 18.5, color: '#000', fontFamily: FONT,
      formatter: function (v) { return String(v); } },
    splitLine: { show: true, lineStyle: { color: '#e6e6e6', width: 1.3 } },
    minorTick: { show: false }, minorSplitLine: { show: false }
  });

  yAxes.push({
    type: 'value', gridIndex: i, min: p.lim[0], max: p.lim[1], position: 'left',
    name: 'Maize Yield Change (%)', nameLocation: 'middle', nameGap: 68,
    nameTextStyle: { fontSize: 21, color: '#000', fontFamily: FONT },
    axisLine: { show: false, onZero: false },
    axisTick: { show: true, customValues: p.ticks, length: 6, lineStyle: { color: '#000', width: 1.3 } },
    axisLabel: { show: true, customValues: p.ticks, margin: 10, fontSize: 18.5, color: '#000', fontFamily: FONT,
      formatter: minusFmt },
    splitLine: { show: true, lineStyle: { color: '#e6e6e6', width: 1.3 } },
    minorTick: { show: false }, minorSplitLine: { show: false }
  });

  titles.push({
    text: p.code + ' \u2014 error: ' + p.err + ' \u2014 ' + p.tag,
    left: left + plotW / 2, top: top - 27, padding: 0,
    textAlign: 'center', textVerticalAlign: 'top',
    textStyle: { fontSize: 22, fontWeight: 'normal', color: '#000', fontFamily: FONT }
  });

  // ensemble members (faint)
  p.members.forEach(function (m) {
    series.push(lineSeries(i, 'member', m, { color: 'rgba(31,119,180,0.2)', width: 1.3 }, 1));
  });
  // simulated percentiles
  series.push(lineSeries(i, 'Simulated p50', p.s50, { color: BLUE, width: 3.1 }, 2));
  series.push(lineSeries(i, 'Simulated p05/p95', p.s05, { color: BLUE, width: 2, type: [6.7, 2.9] }, 2));
  series.push(lineSeries(i, 'Simulated p05/p95', p.s95, { color: BLUE, width: 2, type: [6.7, 2.9] }, 2));
  // emulated band
  series.push({
    type: 'custom', name: 'Emulated p05\u2013p95', xAxisIndex: i, yAxisIndex: i,
    data: [[years[0], p.e05[0]]], encode: { x: 0, y: 1 },
    itemStyle: { color: BAND },
    renderItem: bandRenderer(p.e05, p.e95),
    z: 3, silent: true, animation: false
  });
  series.push(lineSeries(i, 'Emulated p50', p.e50, { color: ORANGE, width: 3.5 }, 4));

  if (col === 0) {
    legends.push({
      show: true, orient: 'vertical', left: left + 9, top: top + 11,
      padding: [5, 10, 6, 7], itemGap: 6, itemWidth: 41, itemHeight: 14,
      backgroundColor: 'rgba(255,255,255,0.8)', borderColor: '#cccccc', borderWidth: 1, borderRadius: 4,
      selectedMode: false, z: 10,
      textStyle: { fontSize: 19.5, color: '#000', fontFamily: FONT, padding: [0, 0, 0, 9] },
      data: [
        { name: 'Simulated p50', icon: ICON_SOLID, itemStyle: { color: BLUE, borderWidth: 0 } },
        { name: 'Simulated p05/p95', icon: ICON_DASH, itemStyle: { color: BLUE, borderWidth: 0 } },
        { name: 'Emulated p50', icon: ICON_SOLID, itemStyle: { color: ORANGE, borderWidth: 0 } },
        { name: 'Emulated p05\u2013p95', icon: 'rect', itemStyle: { color: BAND, borderColor: BAND, borderWidth: 1 } }
      ]
    });
  }
});

var myChart = echarts.init(document.getElementById('chart'));
myChart.setOption({
  animation: false,
  backgroundColor: '#fff',
  title: titles,
  legend: legends,
  grid: grids,
  xAxis: xAxes,
  yAxis: yAxes,
  series: series
});
</script>
</body>
</html>
